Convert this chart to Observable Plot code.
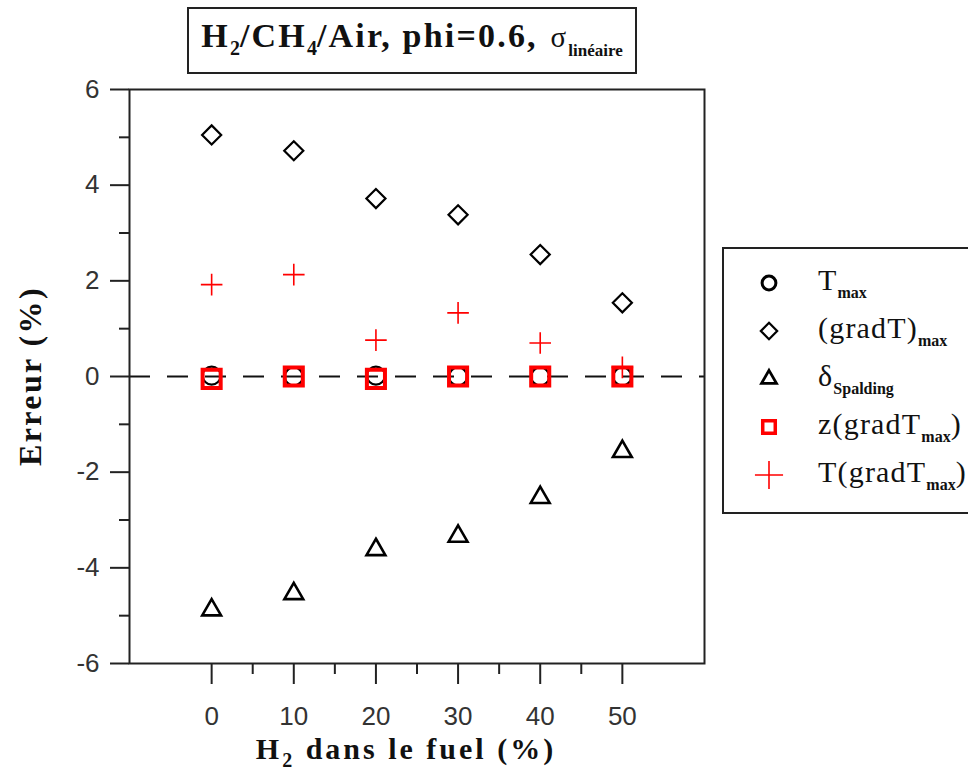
<!DOCTYPE html>
<html><head><meta charset="utf-8">
<script src="https://cdn.jsdelivr.net/npm/d3@7"></script>
<script src="https://cdn.jsdelivr.net/npm/@observablehq/plot@0.6"></script>
<style>
body{margin:0;background:#fff;}
#wrap{position:relative;width:968px;height:780px;overflow:hidden;background:#fff;}
#wrap svg.plot{position:absolute;left:0;top:0;}
.serif{font-family:"Liberation Serif","Times New Roman",serif;color:#111;}
#title{position:absolute;left:187px;top:7px;width:446px;height:63px;border:2px solid #222;text-align:center;white-space:nowrap;}
#title .in{display:inline-block;margin-top:9px;font-weight:bold;font-size:34px;letter-spacing:2.2px;line-height:36px;}
#title sub{font-size:20px;vertical-align:-8px;line-height:0;letter-spacing:0;}
#title .sig{font-weight:normal;font-size:29px;margin-left:2px;}
#title .lin{font-size:17px;vertical-align:-9px;line-height:0;letter-spacing:0;}
#xlabel{position:absolute;left:0;width:812px;top:733px;text-align:center;font-weight:bold;font-size:30px;letter-spacing:3px;white-space:nowrap;line-height:32px;}
#xlabel sub{font-size:20px;vertical-align:-8px;line-height:0;}
#ylabel{position:absolute;left:30px;top:376px;transform:translate(-50%,-50%) rotate(-90deg);font-weight:bold;font-size:32px;letter-spacing:2.4px;white-space:nowrap;}
#legend{position:absolute;left:722px;top:247px;width:270px;height:263px;border:2px solid #222;}
.lrow{position:absolute;left:0;height:40px;width:260px;}
.lrow svg{position:absolute;left:30px;top:5px;}
.lrow .ltxt{position:absolute;left:94px;top:1px;font-size:30px;white-space:nowrap;letter-spacing:1.2px;line-height:32px;}
.lrow sub{font-size:16px;vertical-align:-8px;line-height:0;font-weight:bold;letter-spacing:0;}
</style></head><body><div id="wrap"></div>
<script>
// ---- data ----
const h2 = [0, 10, 20, 30, 40, 50];
const tMax = [0.02, 0, 0.02, 0, 0, 0];
const gradTMax = [5.05, 4.72, 3.72, 3.38, 2.55, 1.54];
const deltaSpalding = [-4.88, -4.54, -3.62, -3.34, -2.53, -1.57];
const zGradTMax = [-0.05, 0, -0.05, 0, 0, 0];
const tGradTMax = [1.92, 2.13, 0.76, 1.33, 0.70, 0.19];
const yTicks = [-6, -4, -2, 0, 2, 4, 6];
const yMinorTicks = [-5, -3, -1, 1, 3, 5];
const xTicks = [0, 10, 20, 30, 40, 50];
const xMinorTicks = [5, 15, 25, 35, 45];
const seriesLabels = ["T<sub>max</sub>", "(gradT)<sub>max</sub>", "&delta;<sub>Spalding</sub>", "z(gradT<sub>max</sub>)", "T(gradT<sub>max</sub>)"];

// ---- series styling ----
const series = [
  {values: tMax, symbol: "circle", r: 9, stroke: "#000", sw: 2.2, d3s: d3.symbolCircle, lsize: 150, lsw: 3},
  {values: gradTMax, symbol: "diamond2", r: 8.6, stroke: "#000", sw: 2.2, d3s: d3.symbolDiamond2, lsize: 170, lsw: 2.2},
  {values: deltaSpalding, symbol: "triangle2", r: 9, stroke: "#000", sw: 2.6, d3s: d3.symbolTriangle2, lsize: 160, lsw: 2.8},
  {values: zGradTMax, symbol: "square2", r: 11.5, stroke: "#f00", sw: 4, d3s: d3.symbolSquare2, lsize: 200, lsw: 3.5},
  {values: tGradTMax, symbol: "plus", r: 7, stroke: "#f00", sw: 1.6, d3s: d3.symbolPlus, lsize: 260, lsw: 1.6}
];
const toRows = v => h2.map((x, i) => ({x, y: v[i]}));
const fmt = d => String(d);

const chart = Plot.plot({
  width: 968, height: 780,
  marginLeft: 129, marginRight: 264, marginTop: 89, marginBottom: 117,
  x: {domain: [-10, 60]},
  y: {domain: [-6, 6]},
  style: {fontFamily: "'Liberation Sans', Arial, sans-serif", fontSize: "26px", color: "#222", background: "transparent"},
  marks: [
    Plot.ruleY([0], {stroke: "#111", strokeWidth: 2, strokeDasharray: "21,17"}),
    Plot.frame({stroke: "#222", strokeWidth: 2}),
    Plot.axisY({ticks: yTicks, tickSize: 19, tickPadding: 11, strokeWidth: 2, label: null, fontSize: 26, tickFormat: fmt, fill: "#333"}),
    Plot.axisY({ticks: yMinorTicks, tickSize: 10, text: null, strokeWidth: 2, label: null}),
    Plot.axisX({ticks: xTicks, tickSize: 21, tickPadding: 22, strokeWidth: 2, label: null, fontSize: 26, tickFormat: fmt, fill: "#333"}),
    Plot.axisX({ticks: xMinorTicks, tickSize: 11, text: null, strokeWidth: 2, label: null}),
    ...series.map(s => Plot.dot(toRows(s.values), {x: "x", y: "y", symbol: s.symbol, r: s.r, stroke: s.stroke, strokeWidth: s.sw, fill: "none"}))
  ]
});
chart.classList.add("plot");
const wrap = document.getElementById("wrap");
wrap.appendChild(chart);

// title
const title = document.createElement("div");
title.id = "title"; title.className = "serif";
title.innerHTML = '<span class="in">H<sub>2</sub>/CH<sub>4</sub>/Air, phi=0.6, <span class="sig">&sigma;</span><span class="lin">linéaire</span></span>';
wrap.appendChild(title);

// axis titles
const xl = document.createElement("div");
xl.id = "xlabel"; xl.className = "serif";
xl.innerHTML = 'H<sub>2</sub> dans le fuel (%)';
wrap.appendChild(xl);
const yl = document.createElement("div");
yl.id = "ylabel"; yl.className = "serif";
yl.textContent = "Erreur (%)";
wrap.appendChild(yl);

// legend
const lg = document.createElement("div");
lg.id = "legend"; lg.className = "serif";
series.forEach((s, i) => {
  const row = document.createElement("div");
  row.className = "lrow";
  row.style.top = (14 + i * 48) + "px";
  const sv = d3.create("svg").attr("width", 30).attr("height", 30).attr("viewBox", "-15 -15 30 30");
  sv.append("path").attr("d", d3.symbol(s.d3s, s.lsize)()).attr("fill", "none").attr("stroke", s.stroke).attr("stroke-width", s.lsw);
  row.appendChild(sv.node());
  const t = document.createElement("span");
  t.className = "ltxt";
  t.innerHTML = seriesLabels[i];
  row.appendChild(t);
  lg.appendChild(row);
});
wrap.appendChild(lg);
</script></body></html>
